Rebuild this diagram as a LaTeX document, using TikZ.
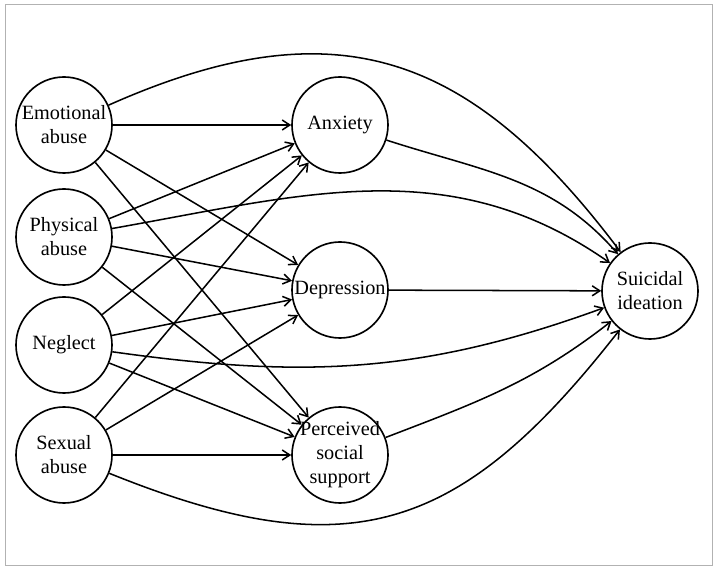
\documentclass[tikz,border=0pt]{standalone}
\usepackage{fontspec}
\setmainfont{Liberation Serif}
\usetikzlibrary{arrows.meta,positioning}

\begin{document}
\begin{tikzpicture}[x=0.03cm,y=-0.03cm,
  var/.style={circle,draw,line width=1.4pt,minimum size=2.88cm,inner sep=-4pt,align=center,font=\fontsize{17.3}{20.5}\selectfont},
  link/.style={line width=1.3pt,-{Straight Barb[length=6.5pt,width=8.5pt]}}]
\useasboundingbox (0,0) rectangle (717,570);
\draw [gray!60,line width=0.8pt] (5,4) rectangle (712,565);
\node [var] (emo) at (64,125) {Emotional\\abuse};
\node [var] (phy) at (64,237) {Physical\\abuse};
\node [var] (neg) at (64,345) {Neglect};
\node [var] (sex) at (64,455) {Sexual\\abuse};
\node [var] (anx) at (340,125) {Anxiety};
\node [var] (dep) at (340,290) {Depression};
\node [var,inner sep=-9pt] (pss) at (340,455) {Perceived\\social\\support};
\node [var] (sui) at (650,291) {Suicidal\\ideation};
\foreach \a in {emo,phy,neg,sex}
  \foreach \b in {anx,dep,pss}
    \draw [link] (\a) -- (\b);
\draw [link] (emo) to[out=24,in=127,looseness=1.2] (sui);
\draw [link] (phy) to[out=10,in=145] (sui);
\draw [link] (neg) to[out=-8,in=200] (sui);
\draw [link] (sex) to[out=-22,in=232,looseness=1.25] (sui);
\draw [link] (anx) to[out=-18,in=131] (sui);
\draw [link] (dep) -- (sui);
\draw [link] (pss) to[out=21,in=218] (sui);
\end{tikzpicture}
\end{document}
